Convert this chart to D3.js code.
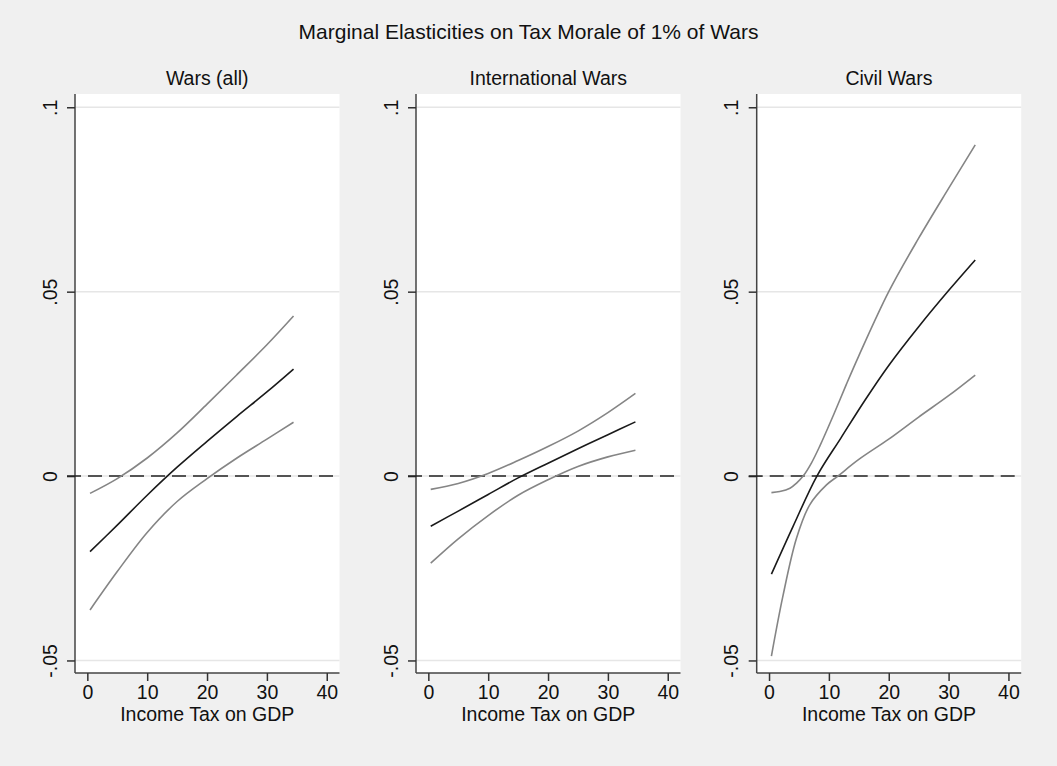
<!DOCTYPE html>
<html>
<head>
<meta charset="utf-8">
<script src="https://cdn.jsdelivr.net/npm/d3@7"></script>
<style>
  html, body { margin: 0; padding: 0; background: #f0f0f0; }
  svg { display: block; }
  text { font-family: "Liberation Sans", Arial, Helvetica, sans-serif; fill: #111; }
</style>
</head>
<body>
<svg id="chart" width="1057" height="766"></svg>
<script>
// Marginal effect of a 1% rise in wars on tax morale, by income tax share of GDP

const chartTitle = "Marginal Elasticities on Tax Morale of 1% of Wars";
const panelTitles = ["Wars (all)", "International Wars", "Civil Wars"];
const xAxisTitle = "Income Tax on GDP";
const xTicks = [0, 10, 20, 30, 40];
const yTicks = [-0.05, 0, 0.05, 0.1];
const yTickLabels = ["-.05", "0", ".05", ".1"];

// Wars (all)
const allX   = [0.45, 5, 10, 15, 20, 25, 30, 34.45];
const allMid = [-0.0205, -0.0133, -0.0052, 0.0024, 0.0094, 0.0162, 0.0228, 0.0290];
const allUp  = [-0.0047, -0.0007, 0.0049, 0.0117, 0.0195, 0.0275, 0.0356, 0.0434];
const allLo  = [-0.0363, -0.0259, -0.0153, -0.0069, -0.0007, 0.0049, 0.0100, 0.0146];

// International wars
const intX   = [0.4, 5, 10, 15, 20, 25, 30, 34.6];
const intMid = [-0.0136, -0.0095, -0.0050, -0.0005, 0.0035, 0.0074, 0.0112, 0.0147];
const intUp  = [-0.0036, -0.0020, 0.0007, 0.0042, 0.0080, 0.0122, 0.0172, 0.0224];
const intLo  = [-0.0236, -0.0170, -0.0107, -0.0052, -0.0010, 0.0026, 0.0052, 0.0070];

// Civil wars
const civMidX = [0.4, 4, 8, 12, 16, 20, 25, 30, 34.45];
const civMid  = [-0.0266, -0.0137, 0.0000, 0.0103, 0.0205, 0.0300, 0.0405, 0.0503, 0.0586];
const civUpX  = [0.4, 1.8, 3.5, 4.6, 5.7, 7.1, 8.5, 10.7, 12.9, 15, 20, 25, 30, 34.45];
const civUp   = [-0.0045, -0.0042, -0.0033, -0.0019, 0.0000, 0.0036, 0.0082, 0.0163, 0.0248, 0.0326, 0.0500, 0.0645, 0.0780, 0.0898];
const civLoX  = [0.4, 2.3, 4.6, 6.8, 9.6, 11.5, 15, 20, 25, 30, 34.45];
const civLo   = [-0.0488, -0.0327, -0.0168, -0.0078, -0.0024, 0.0000, 0.0045, 0.0100, 0.0160, 0.0218, 0.0274];

const zip = (xs, ys) => xs.map((x, i) => ({ x, y: ys[i] }));

const panels = [
  { title: panelTitles[0], mid: zip(allX, allMid), up: zip(allX, allUp), lo: zip(allX, allLo) },
  { title: panelTitles[1], mid: zip(intX, intMid), up: zip(intX, intUp), lo: zip(intX, intLo) },
  { title: panelTitles[2], mid: zip(civMidX, civMid), up: zip(civUpX, civUp), lo: zip(civLoX, civLo) }
];

// layout
const W = 1057, H = 766;
const plotTop = 94, plotBottom = 673;
const plotWidth = 264.5;
const panelLefts = [75, 416, 756.7];
const xDomain = [-2.06, 42.13];
const yDomain = [-0.0534, 0.1036];
const fontSize = 19.5;

const svg = d3.select("#chart");
svg.append("rect").attr("width", W).attr("height", H).attr("fill", "#f0f0f0");

svg.append("text")
  .attr("x", W / 2).attr("y", 39)
  .attr("text-anchor", "middle")
  .style("font-size", "21px")
  .text(chartTitle);

const y = d3.scaleLinear().domain(yDomain).range([plotBottom, plotTop]);

panels.forEach((p, i) => {
  const left = panelLefts[i];
  const x = d3.scaleLinear().domain(xDomain).range([left, left + plotWidth]);
  const g = svg.append("g");

  // plot region
  g.append("rect")
    .attr("x", left).attr("y", plotTop)
    .attr("width", plotWidth).attr("height", plotBottom - plotTop)
    .attr("fill", "#ffffff");

  // horizontal grid lines
  g.selectAll(".grid")
    .data(yTicks)
    .enter().append("line")
    .attr("x1", left).attr("x2", left + plotWidth)
    .attr("y1", d => y(d)).attr("y2", d => y(d))
    .attr("stroke", "#e6e6e6").attr("stroke-width", 1.5);

  // panel title
  g.append("text")
    .attr("x", left + plotWidth / 2).attr("y", 85)
    .attr("text-anchor", "middle")
    .style("font-size", fontSize + "px")
    .text(p.title);

  // y axis
  const yAxis = d3.axisLeft(y).tickValues(yTicks)
    .tickSize(8).tickPadding(10)
    .tickFormat((d, k) => yTickLabels[k]);
  const ya = g.append("g").attr("transform", `translate(${left},0)`).call(yAxis);
  ya.select(".domain").attr("stroke", "#444").attr("stroke-width", 1.5)
    .attr("d", `M0,${plotTop}V${plotBottom}`);
  ya.selectAll(".tick line").attr("stroke", "#333").attr("stroke-width", 1.5);
  ya.selectAll(".tick text")
    .style("font-size", fontSize + "px")
    .style("font-family", '"Liberation Sans", Arial, sans-serif')
    .attr("fill", "#111")
    .attr("text-anchor", "middle")
    .attr("dy", 0)
    .attr("x", 0).attr("y", 0)
    .attr("transform", "translate(-18.5,0) rotate(-90)");

  // x axis
  const xAxis = d3.axisBottom(x).tickValues(xTicks).tickSize(8).tickPadding(4);
  const xa = g.append("g").attr("transform", `translate(0,${plotBottom})`).call(xAxis);
  xa.select(".domain").attr("stroke", "#444").attr("stroke-width", 1.5)
    .attr("d", `M${left},0H${left + plotWidth}`);
  xa.selectAll(".tick line").attr("stroke", "#333").attr("stroke-width", 1.5);
  xa.selectAll(".tick text")
    .style("font-size", fontSize + "px")
    .style("font-family", '"Liberation Sans", Arial, sans-serif')
    .attr("fill", "#111");

  // x axis title
  g.append("text")
    .attr("x", left + plotWidth / 2).attr("y", 721)
    .attr("text-anchor", "middle")
    .style("font-size", fontSize + "px")
    .text(xAxisTitle);

  // zero reference line
  g.append("line")
    .attr("x1", left - 8).attr("x2", left + plotWidth)
    .attr("y1", y(0)).attr("y2", y(0))
    .attr("stroke", "#222").attr("stroke-width", 1.6)
    .attr("stroke-dasharray", "14,7");

  const line = d3.line()
    .x(d => x(d.x)).y(d => y(d.y))
    .curve(d3.curveCatmullRom.alpha(0.5));

  // confidence bounds
  [p.up, p.lo].forEach(s => {
    g.append("path").datum(s)
      .attr("d", line)
      .attr("fill", "none")
      .attr("stroke", "#858585").attr("stroke-width", 1.6);
  });

  // point estimate
  g.append("path").datum(p.mid)
    .attr("d", line)
    .attr("fill", "none")
    .attr("stroke", "#1a1a1a").attr("stroke-width", 1.6);
});
</script>
</body>
</html>
